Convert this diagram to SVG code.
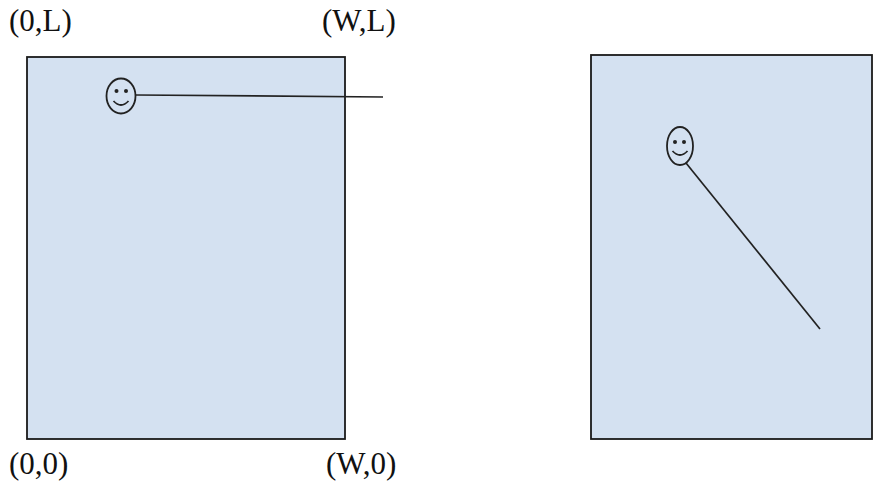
<svg xmlns="http://www.w3.org/2000/svg" width="882" height="490" viewBox="0 0 882 490">
<style>
.box{fill:#d4e1f1;stroke:#1a1a1a;stroke-width:1.8}
.face{fill:none;stroke:#222;stroke-width:1.8}
.eye{fill:#222}
.line{fill:none;stroke:#222;stroke-width:1.7}
.lbl{font-family:"Liberation Serif",serif;font-size:31px;fill:#111}
</style>
<rect width="882" height="490" fill="#fff"/>
<g id="left-box"><rect class="box" x="27" y="57" width="318" height="382"/></g>
<g id="right-box"><rect class="box" x="591" y="55" width="281" height="384"/></g>
<g id="connectors">
<line class="line" x1="136" y1="95" x2="383" y2="97"/>
<line class="line" x1="686" y1="163" x2="820" y2="329"/>
</g>
<g id="left-face">
<ellipse class="face" cx="121" cy="96" rx="14.5" ry="17.5"/>
<circle class="eye" cx="116.5" cy="91" r="2"/>
<circle class="eye" cx="126" cy="91" r="2"/>
<path class="face" d="M113.5 101 Q121 109 128.5 101"/>
</g>
<g id="right-face">
<ellipse class="face" cx="680" cy="146" rx="13" ry="19"/>
<circle class="eye" cx="675" cy="142" r="2"/>
<circle class="eye" cx="684" cy="142" r="2"/>
<path class="face" d="M672.5 151 Q680 159 687.5 151"/>
</g>
<g id="labels">
<text class="lbl" x="9" y="31">(0,L)</text>
<text class="lbl" x="322" y="31">(W,L)</text>
<text class="lbl" x="9" y="474">(0,0)</text>
<text class="lbl" x="326" y="474">(W,0)</text>
</g>
</svg>
